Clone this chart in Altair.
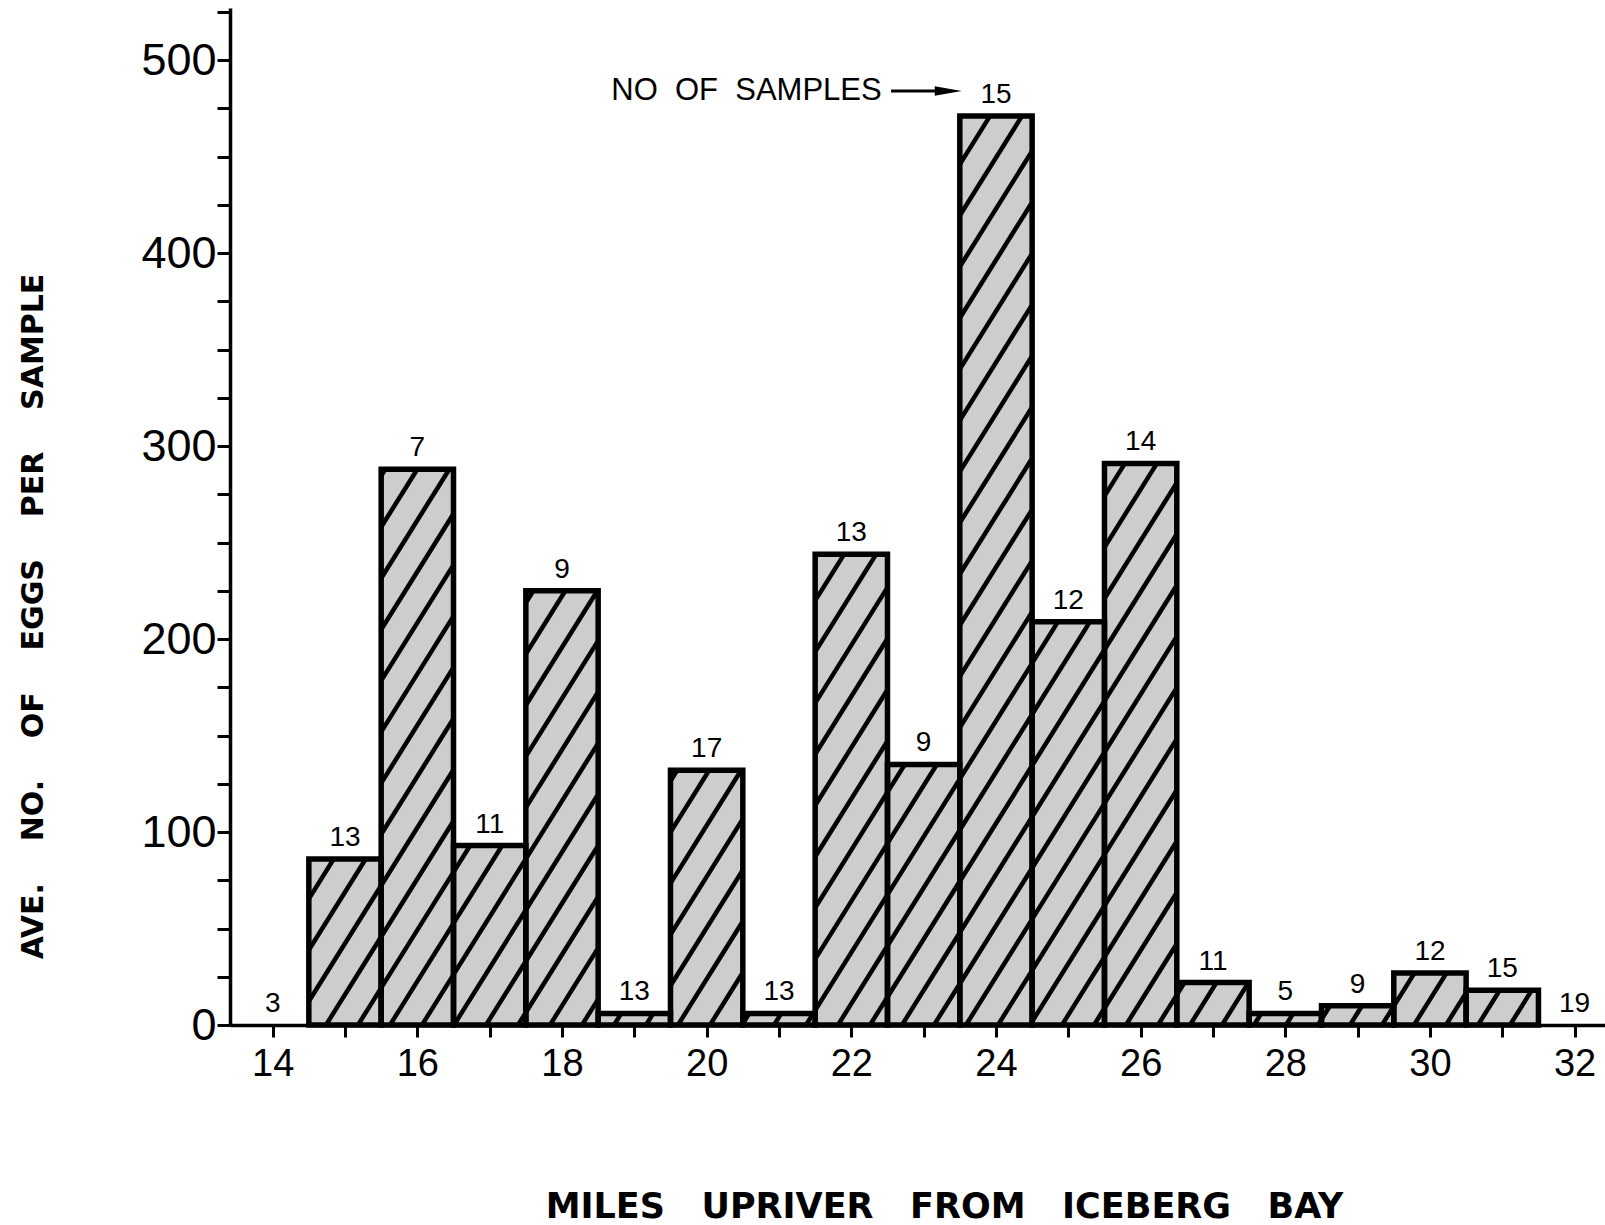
import altair as alt
import pandas as pd
import numpy as np

# ---- data ----
miles = [14, 15, 16, 17, 18, 19, 20, 21, 22, 23, 24, 25, 26, 27, 28, 29, 30, 31, 32]
eggs = [0, 86, 288, 93, 225, 6, 132, 6, 244, 135, 471, 209, 291, 22, 6, 10, 27, 18, 0]
samples = [3, 13, 7, 11, 9, 13, 17, 13, 13, 9, 15, 12, 14, 11, 5, 9, 12, 15, 19]
y_ticks = list(range(0, 526, 25))
x_ticks = list(range(14, 33))
note_text = "NO\u00a0\u00a0OF\u00a0\u00a0SAMPLES"

# ---- layout ----
W, H = 1375, 1017
XMIN, XMAX = 13.41, 32.42
YMAX = 527
NOTE_X, NOTE_Y = 22.42, 484
ARROW_X0, ARROW_X1 = 22.55, 23.30
HEAD_X = 23.34

df = pd.DataFrame({"mile": miles, "eggs": eggs, "n": samples})
df["x0"] = df["mile"] - 0.5
df["x1"] = df["mile"] + 0.5
bars = df[df["eggs"] > 0].copy()

# hatch segments derived from the bar rectangles (pixel-constant spacing)
sx = W / (XMAX - XMIN)
sy = H / YMAX
theta = np.deg2rad(58)
cot = 1 / np.tan(theta)
hsp = 32.0
segs = []
for _, r in bars.iterrows():
    xl = (r.x0 - XMIN) * sx
    xr = (r.x1 - XMIN) * sx
    top = r.eggs * sy
    kmin = int(np.floor((xl - top * cot) / hsp)) - 1
    kmax = int(np.ceil(xr / hsp)) + 1
    for k in range(kmin, kmax + 1):
        c = k * hsp
        ylo = max(0.0, (xl - c) / cot)
        yhi = min(top, (xr - c) / cot)
        if yhi > ylo + 0.5:
            segs.append({
                "hx": (c + ylo * cot) / sx + XMIN, "hy": ylo / sy,
                "hx2": (c + yhi * cot) / sx + XMIN, "hy2": yhi / sy,
            })
hatch = pd.DataFrame(segs)

xs = alt.Scale(domain=[XMIN, XMAX], nice=False, zero=False)
ys = alt.Scale(domain=[0, YMAX], nice=False)

x_axis = alt.Axis(
    values=x_ticks, labelExpr="datum.value % 2 === 0 ? datum.label : ''",
    title="MILES\u00a0\u00a0\u00a0UPRIVER\u00a0\u00a0\u00a0FROM\u00a0\u00a0\u00a0ICEBERG\u00a0\u00a0\u00a0BAY",
    titleFont="DejaVu Sans", titleFontWeight="bold", titleFontSize=35, titleColor="black",
    titleX=714, titleY=181, titleBaseline="middle", titleAlign="center",
    labelFont="Liberation Sans", labelFontSize=38, labelColor="black",
    labelPadding=8, tickSize=12, tickWidth=3, tickColor="black",
    domainWidth=3.5, domainColor="black", grid=False, zindex=1,
)
y_axis = alt.Axis(
    values=y_ticks, labelExpr="datum.value % 100 === 0 ? datum.label : ''",
    title="AVE.\u00a0\u00a0\u00a0\u00a0NO.\u00a0\u00a0\u00a0\u00a0OF\u00a0\u00a0\u00a0\u00a0EGGS\u00a0\u00a0\u00a0\u00a0PER\u00a0\u00a0\u00a0\u00a0SAMPLE",
    titleFont="DejaVu Sans", titleFontWeight="bold", titleFontSize=30, titleColor="black",
    titleX=-197, titleY=608, titleAngle=270, titleBaseline="middle", titleAlign="center",
    labelFont="Liberation Sans", labelFontSize=45, labelColor="black",
    labelPadding=1, tickSize=13, tickWidth=3, tickColor="black",
    domainWidth=3.5, domainColor="black", grid=False, zindex=1,
)


def X(field):
    return alt.X(field, scale=xs, axis=x_axis)


def Y(field):
    return alt.Y(field, scale=ys, axis=y_axis)


fill = alt.Chart(bars).mark_rect(fill="#cdcdcd", stroke=None).encode(
    x=X("x0:Q"), x2="x1:Q", y=Y("eggs:Q"), y2=alt.datum(0),
)

hatch_layer = alt.Chart(hatch).mark_rule(color="black", strokeWidth=4.5, strokeCap="butt").encode(
    x=X("hx:Q"), y=Y("hy:Q"), x2="hx2:Q", y2="hy2:Q",
)

outline = alt.Chart(bars).mark_rect(fillOpacity=0, stroke="black", strokeWidth=5.5, strokeJoin="miter").encode(
    x=X("x0:Q"), x2="x1:Q", y=Y("eggs:Q"), y2=alt.datum(0),
)

labels = alt.Chart(df).mark_text(
    font="Liberation Sans", fontSize=28, color="black", baseline="alphabetic", dy=-13
).encode(
    x=X("mile:Q"), y=Y("eggs:Q"), text="n:N",
)

note_df = pd.DataFrame({"x": [NOTE_X], "y": [NOTE_Y], "t": [note_text],
                        "ax0": [ARROW_X0], "ax1": [ARROW_X1], "hx": [HEAD_X]})
note = alt.Chart(note_df).mark_text(
    font="Liberation Sans", fontSize=31, color="black", align="right", baseline="middle"
).encode(
    x=X("x:Q"), y=Y("y:Q"), text="t:N",
)
arrow = alt.Chart(note_df).mark_rule(color="black", strokeWidth=3).encode(
    x=X("ax0:Q"), x2="ax1:Q", y=Y("y:Q"),
)
head = alt.Chart(note_df).mark_point(
    shape="M-1,-0.35L1,0L-1,0.35Z", filled=True, fill="black", stroke=None, size=729, opacity=1
).encode(
    x=X("hx:Q"), y=Y("y:Q"),
)

chart = alt.layer(fill, hatch_layer, outline, labels, note, arrow, head).properties(
    width=W, height=H,
    padding={"left": 230, "top": 8, "right": 0, "bottom": 200},
    autosize=alt.AutoSizeParams(type="none"),
    background="white",
).configure_view(stroke=None)

chart.save("out.html", embed_options={"renderer": "svg", "actions": False})
